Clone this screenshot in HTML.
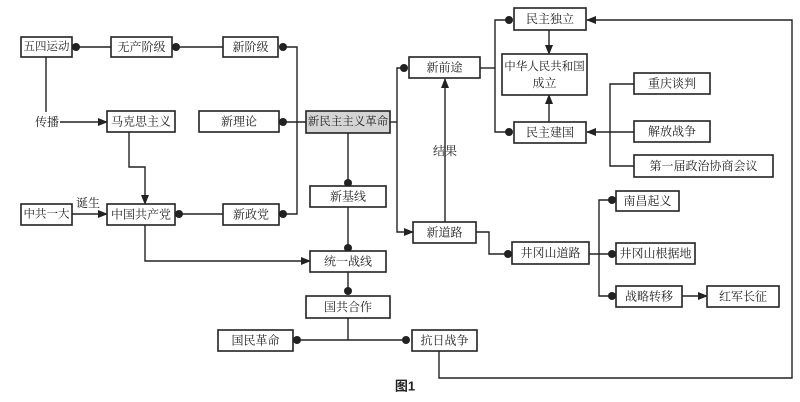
<!DOCTYPE html>
<html><head><meta charset="utf-8"><style>
html,body{margin:0;padding:0;background:#fff;}
svg{display:block;}
text{font-family:"Liberation Serif","Noto Serif CJK SC","Noto Sans CJK SC",serif;font-size:12px;fill:#222;text-anchor:middle;dominant-baseline:central;}
.b{fill:#fff;stroke:#222;stroke-width:1.6;}
.l{fill:none;stroke:#222;stroke-width:1.4;}
</style></head><body>
<svg width="800" height="402" viewBox="0 0 800 402" xmlns="http://www.w3.org/2000/svg">
<defs>
<marker id="a" markerWidth="10" markerHeight="8" refX="9" refY="4" orient="auto" markerUnits="userSpaceOnUse"><path d="M0,0 L10,4 L0,8 Z" fill="#222"/></marker>
</defs>
<g class="l">
<line x1="76" y1="47" x2="111" y2="47"/>
<line x1="176" y1="47" x2="223" y2="47"/>
<polyline points="283,47 297,47 297,214 283,214"/>
<line x1="179" y1="214" x2="223" y2="214"/>
<line x1="46" y1="57" x2="46" y2="112"/>
<line x1="60" y1="122" x2="107" y2="122" marker-end="url(#a)"/>
<line x1="72" y1="214" x2="107" y2="214" marker-end="url(#a)"/>
<polyline points="129,132 129,167 145,167 145,204" marker-end="url(#a)"/>
<polyline points="145,225 145,261 310,261" marker-end="url(#a)"/>
<line x1="283" y1="122" x2="306" y2="122"/>
<line x1="390" y1="122" x2="397" y2="122"/>
<polyline points="404,68 397,68 397,232 413,232" marker-end="url(#a)"/>
<line x1="348" y1="133" x2="348" y2="183"/>
<line x1="348" y1="207" x2="348" y2="248"/>
<line x1="348" y1="272" x2="348" y2="291"/>
<line x1="348" y1="318" x2="348" y2="340"/>
<line x1="297" y1="340" x2="406" y2="340"/>
<polyline points="439,351 439,378 792,378 792,20 587,20" marker-end="url(#a)"/>
<line x1="445" y1="222" x2="445" y2="79" marker-end="url(#a)"/>
<polyline points="480,68 495,68"/>
<polyline points="509,20 495,20 495,132 509,132"/>
<line x1="549" y1="30" x2="549" y2="54" marker-end="url(#a)"/>
<line x1="549" y1="122" x2="549" y2="95" marker-end="url(#a)"/>
<polyline points="634,84 610,84 610,166 634,166"/>
<line x1="634" y1="132" x2="587" y2="132" marker-end="url(#a)"/>
<polyline points="476,232 489,232 489,254 508,254"/>
<line x1="589" y1="254" x2="612" y2="254"/>
<polyline points="612,200 599,200 599,296 612,296"/>
<line x1="682" y1="296" x2="707" y2="296" marker-end="url(#a)"/>
</g>
<g fill="#222">
<circle cx="76" cy="47" r="4"/><circle cx="176" cy="47" r="4"/><circle cx="283" cy="47" r="4"/>
<circle cx="283" cy="122" r="4"/><circle cx="179" cy="214" r="4"/><circle cx="283" cy="214" r="4"/>
<circle cx="348" cy="183" r="4"/><circle cx="348" cy="248" r="4"/><circle cx="348" cy="291" r="4"/>
<circle cx="297" cy="340" r="4"/><circle cx="406" cy="340" r="4"/><circle cx="404" cy="68" r="4"/>
<circle cx="509" cy="20" r="4"/><circle cx="509" cy="132" r="4"/><circle cx="508" cy="254" r="4"/>
<circle cx="612" cy="200" r="4"/><circle cx="612" cy="254" r="4"/><circle cx="612" cy="296" r="4"/>
</g>
<g>
<rect class="b" x="21" y="37" width="51" height="20"/><text x="46.5" y="47" style="font-size:11.5px">五四运动</text>
<rect class="b" x="111" y="37" width="61" height="20"/><text x="141.5" y="47">无产阶级</text>
<rect class="b" x="223" y="37" width="55" height="20"/><text x="250.5" y="47">新阶级</text>
<text x="47" y="122">传播</text>
<rect class="b" x="107" y="111" width="68" height="21"/><text x="141" y="121.5">马克思主义</text>
<rect class="b" x="199" y="111" width="80" height="21"/><text x="239" y="121.5">新理论</text>
<rect class="b" x="306" y="111" width="84" height="22" style="fill:#d4d4d4"/><text x="348" y="122" style="font-size:11.5px">新民主主义革命</text>
<text x="88" y="203">诞生</text>
<rect class="b" x="21" y="204" width="51" height="21"/><text x="46.5" y="214.5" style="font-size:11.5px">中共一大</text>
<rect class="b" x="107" y="204" width="68" height="21"/><text x="141" y="214.5">中国共产党</text>
<rect class="b" x="223" y="204" width="56" height="21"/><text x="251" y="214.5">新政党</text>
<rect class="b" x="310" y="186" width="76" height="21"/><text x="348" y="196.5">新基线</text>
<rect class="b" x="310" y="251" width="76" height="21"/><text x="348" y="261.5">统一战线</text>
<rect class="b" x="306" y="296" width="84" height="22"/><text x="348" y="307">国共合作</text>
<rect class="b" x="218" y="330" width="75" height="21"/><text x="255.5" y="340.5">国民革命</text>
<rect class="b" x="412" y="330" width="65" height="21"/><text x="444.5" y="340.5">抗日战争</text>
<rect class="b" x="409" y="57" width="71" height="21"/><text x="444.5" y="67.5">新前途</text>
<text x="445" y="151">结果</text>
<rect class="b" x="413" y="222" width="63" height="21"/><text x="444.5" y="232.5">新道路</text>
<rect class="b" x="514" y="8" width="72" height="22"/><text x="550" y="19">民主独立</text>
<rect class="b" x="502" y="54" width="85" height="41"/><text x="544.5" y="67" style="font-size:11.5px">中华人民共和国</text><text x="544.5" y="83">成立</text>
<rect class="b" x="514" y="122" width="72" height="21"/><text x="550" y="132.5">民主建国</text>
<rect class="b" x="634" y="73" width="76" height="21"/><text x="672" y="83.5">重庆谈判</text>
<rect class="b" x="634" y="121" width="76" height="21"/><text x="672" y="131.5">解放战争</text>
<rect class="b" x="634" y="155" width="139" height="22"/><text x="703.5" y="166">第一届政治协商会议</text>
<rect class="b" x="512" y="242" width="77" height="22"/><text x="550.5" y="253">井冈山道路</text>
<rect class="b" x="616" y="191" width="63" height="20"/><text x="647.5" y="201">南昌起义</text>
<rect class="b" x="616" y="243" width="79" height="21"/><text x="655.5" y="253.5">井冈山根据地</text>
<rect class="b" x="616" y="286" width="66" height="21"/><text x="649" y="296.5">战略转移</text>
<rect class="b" x="707" y="286" width="72" height="21"/><text x="743" y="296.5">红军长征</text>
<text x="405" y="386" style="font-family:'Liberation Sans','Noto Sans CJK SC',sans-serif;font-weight:bold;font-size:13px">图1</text>
</g>
</svg>
</body></html>
